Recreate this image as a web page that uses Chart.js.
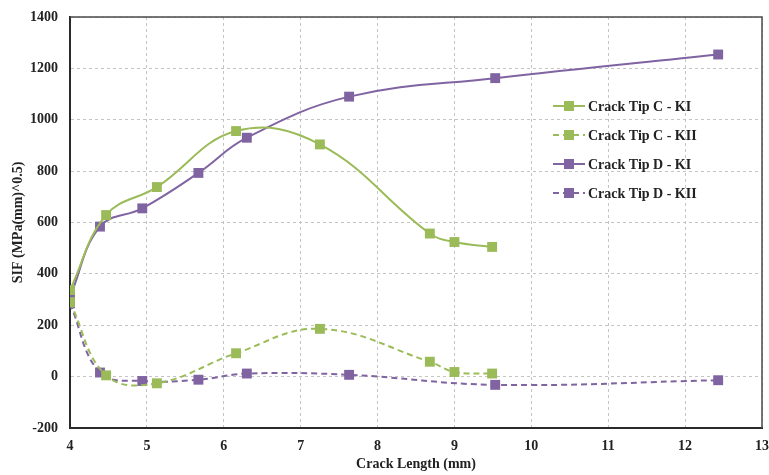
<!DOCTYPE html>
<html>
<head>
<meta charset="utf-8">
<script src="https://cdn.jsdelivr.net/npm/chart.js@4/dist/chart.umd.min.js"></script>
<style>
  html, body { margin: 0; padding: 0; background: #fff; }
  #wrap { width: 769px; height: 475px; }
</style>
</head>
<body>
<div id="wrap"><canvas id="chart" width="769" height="475"></canvas></div>
<script>
// crack length (mm) for each tip
const xTipC = [4, 4.47, 5.13, 6.16, 7.25, 8.68, 9.0, 9.49];
const xTipD = [4, 4.39, 4.94, 5.67, 6.30, 7.63, 9.53, 12.43];

// SIF values
const tipC_KI  = [337, 629, 738, 956, 904, 557, 524, 505];
const tipC_KII = [290, 5, -26, 91, 186, 58, 18, 12];
const tipD_KI  = [310, 584, 655, 793, 930, 1090, 1162, 1254];
const tipD_KII = [285, 16, -17, -12, 12, 7, -32, -14];

const seriesNames = ["Crack Tip C - KI", "Crack Tip C - KII", "Crack Tip D - KI", "Crack Tip D - KII"];

const GREEN = "#9bbb59";
const PURPLE = "#8064a2";
const FONT = "'Liberation Serif', 'Times New Roman', serif";

function pts(xs, ys) {
  return xs.map((x, i) => ({ x: x, y: ys[i] }));
}

function series(label, xs, ys, color, dashed) {
  return {
    label: label,
    data: pts(xs, ys),
    borderColor: color,
    backgroundColor: color,
    borderWidth: 2,
    borderDash: dashed ? [6, 4] : [],
    tension: 0.4,
    pointStyle: "rect",
    pointRadius: 7,
    pointBorderWidth: 0,
    pointBackgroundColor: color,
  };
}

// legend drawn inside the plot, plus top/right frame
const frameAndLegend = {
  id: "frameAndLegend",
  afterDraw(chart) {
    const ctx = chart.ctx;
    const a = chart.chartArea;
    ctx.save();
    ctx.strokeStyle = "#4a4a4a";
    ctx.lineWidth = 1.5;
    ctx.beginPath();
    ctx.moveTo(a.left, a.top);
    ctx.lineTo(a.right, a.top);
    ctx.lineTo(a.right, a.bottom);
    ctx.stroke();

    const rows = [106, 135, 164, 193];
    chart.data.datasets.forEach((ds, i) => {
      const y = rows[i];
      ctx.strokeStyle = ds.borderColor;
      ctx.lineWidth = 2;
      ctx.setLineDash(ds.borderDash);
      ctx.beginPath();
      ctx.moveTo(553, y);
      ctx.lineTo(585, y);
      ctx.stroke();
      ctx.setLineDash([]);
      ctx.fillStyle = ds.borderColor;
      ctx.fillRect(564, y - 5, 10, 10);
      ctx.fillStyle = "#222";
      ctx.font = "bold 14px " + FONT;
      ctx.textBaseline = "middle";
      ctx.textAlign = "left";
      ctx.fillText(ds.label, 588, y + 1);
    });
    ctx.restore();
  }
};

document.addEventListener("DOMContentLoaded", function () {
  const ctx = document.getElementById("chart").getContext("2d");
  new Chart(ctx, {
    type: "line",
    data: {
      datasets: [
        series(seriesNames[0], xTipC, tipC_KI, GREEN, false),
        series(seriesNames[1], xTipC, tipC_KII, GREEN, true),
        series(seriesNames[2], xTipD, tipD_KI, PURPLE, false),
        series(seriesNames[3], xTipD, tipD_KII, PURPLE, true),
      ],
    },
    options: {
      responsive: false,
      animation: false,
      layout: { padding: { top: 17, right: 6, left: 0, bottom: 0 } },
      plugins: {
        legend: { display: false },
        tooltip: { enabled: false },
      },
      scales: {
        x: {
          type: "linear",
          min: 4,
          max: 13,
          ticks: {
            stepSize: 1,
            padding: 10,
            color: "#222",
            font: { family: FONT, size: 14, weight: "bold" },
            callback: (v) => String(v),
          },
          grid: { color: "#c4c4c4", drawTicks: false },
          border: { display: true, color: "#2a2a2a", width: 2, dash: [3, 3] },
          title: {
            display: true,
            text: "Crack Length (mm)",
            color: "#222",
            padding: { top: 0, bottom: 2 },
            font: { family: FONT, size: 14, weight: "bold" },
          },
          afterFit(s) { s.height = 47; s.paddingRight = 0; s.paddingLeft = 0; },
        },
        y: {
          min: -200,
          max: 1400,
          ticks: {
            stepSize: 200,
            padding: 12,
            color: "#222",
            font: { family: FONT, size: 14, weight: "bold" },
            callback: (v) => String(v),
          },
          grid: { color: "#c4c4c4", drawTicks: false },
          border: { display: true, color: "#2a2a2a", width: 2, dash: [3, 3] },
          title: {
            display: true,
            text: "SIF (MPa(mm)^0.5)",
            color: "#222",
            padding: { top: 10, bottom: 0 },
            font: { family: FONT, size: 14, weight: "bold" },
          },
          afterFit(s) { s.width = 70; s.paddingTop = 0; s.paddingBottom = 0; },
        },
      },
    },
    plugins: [frameAndLegend],
  });
});
</script>
</body>
</html>
